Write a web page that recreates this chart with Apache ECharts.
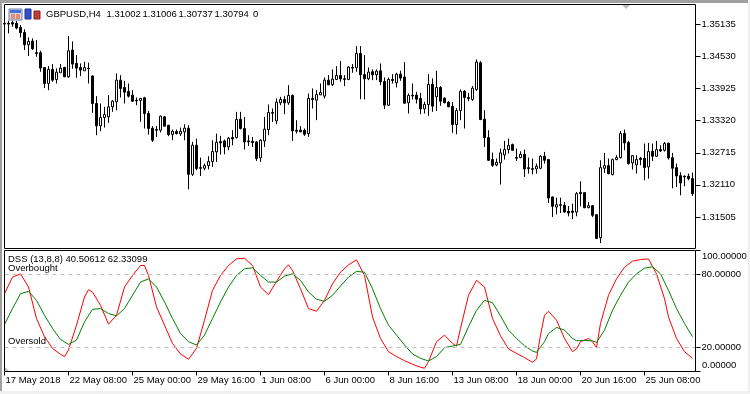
<!DOCTYPE html>
<html><head><meta charset="utf-8">
<style>html,body{margin:0;padding:0;background:#fff}#c{width:750px;height:394px}</style>
<script src="https://cdn.jsdelivr.net/npm/echarts@6/dist/echarts.min.js"></script>
</head><body><div id="c"></div>
<script>
// Prices in points (1 point = 0.00001)
const openPoints=[
135157,135157,135170,135157,135081,134987,134754,134823,134603,134603,
134325,134023,134288,134099,134225,134325,134149,134653,134401,134325,
134262,134313,134162,133645,133223,133380,133393,133582,133677,134086,
133947,133872,133803,133708,133702,133752,133456,133179,133154,133141,
133393,133236,133059,133116,133072,133109,133179,132309,132857,132435,
132423,132473,132549,132732,132927,132939,132826,133002,133002,133349,
133173,132939,132933,132920,132618,132939,133154,133475,133317,133658,
133721,133658,133796,133141,133141,133141,133078,133740,133708,133809,
133784,134086,133998,134099,134174,134111,134099,134325,134319,134590,
134193,134111,134244,134187,134262,134061,133613,134099,134036,134199,
134143,133658,133803,133803,133740,133544,133626,134010,133771,133947,
133746,133670,133588,133248,133513,133878,133758,133721,133910,134414,
133349,133002,132587,132486,132524,132675,132776,132870,132624,132624,
132687,132435,132417,132410,132423,132650,132587,131881,131692,131736,
131724,131610,131616,131597,131969,131963,131679,131717,131547,131112,
132423,132473,132303,132587,132624,133078,132908,132524,132486,132612,
132612,132448,132744,132650,132776,132763,132895,132624,132435,132284,
132272,132272,132228];
const closePoints=[
135144,135144,135144,135069,134981,134754,134817,134678,134590,134313,
134023,134288,134086,134237,134313,134149,134640,134388,134313,134275,
134325,134300,133645,133223,133380,133437,133582,133689,134086,133929,
133859,133784,133689,133695,133740,133456,133173,132952,133141,133406,
133217,133059,133122,133078,133122,133179,132309,132857,132417,132423,
132473,132549,132738,132914,132902,132826,132990,132977,133343,133173,
132920,132920,132908,132606,132952,133160,133475,133462,133670,133721,
133658,133796,133128,133122,133109,133065,133740,133721,133815,133853,
134086,133998,134105,134174,134111,134099,134332,134313,134590,134187,
134111,134237,134187,134256,134055,133613,134099,134080,134199,134124,
133651,133796,133790,133727,133544,133626,134004,133595,133947,133689,
133658,133582,133248,133513,133872,133758,133740,133935,134426,133343,
133002,132574,132479,132536,132713,132776,132851,132763,132612,132687,
132410,132417,132404,132461,132650,132574,131862,131705,131736,131724,
131597,131579,131591,131944,131944,131679,131717,131535,131100,132435,
132473,132322,132587,132624,133078,132902,132511,132662,132587,132587,
132435,132738,132650,132776,132750,132889,132618,132423,132278,132146,
132259,132228,131944];
const lowPoints=[
135144,134968,135094,135044,134892,134653,134540,134653,134527,134244,
133935,133897,134055,134023,134225,134143,134130,134300,134130,134162,
134262,134023,133469,133047,133122,133191,133280,133488,133519,133758,
133645,133758,133677,133613,133299,133173,133059,132920,133015,133097,
133217,133028,132952,133059,133034,132952,132026,132278,132385,132278,
132385,132404,132448,132543,132681,132687,132763,132857,132983,133154,
132776,132845,132826,132561,132543,132826,133047,133299,133254,133613,
133443,133620,132939,133078,133109,133034,133015,133551,133330,133803,
133740,133991,133973,134086,134055,133973,134086,134225,134244,133727,
133721,134086,134086,134086,133991,133538,133595,134023,133947,134073,
133645,133456,133721,133645,133443,133456,133412,133488,133506,133601,
133651,133576,133091,133065,133330,133173,133689,133695,133884,133330,
132826,132561,132448,132461,132114,132587,132700,132750,132561,132612,
132259,132322,132309,132322,132404,132511,131768,131503,131553,131579,
131585,131516,131465,131516,131705,131667,131667,131503,131087,131012,
132335,132309,132290,132574,132606,132763,132492,132398,132322,132479,
132196,132228,132561,132637,132732,132738,132587,132045,132070,131913,
132083,132196,131900];
const highPoints=[
135170,135207,135207,135207,135126,135044,134892,134874,134842,134640,
134325,134351,134388,134307,134388,134338,134918,134817,134559,134401,
134433,134414,134180,133784,133645,133582,133803,133708,134212,134180,
134073,134023,133897,133758,133752,133771,133506,133217,133217,133418,
133406,133236,133154,133154,133191,133254,133236,132920,132983,132624,
132511,132650,132952,133078,133034,132965,133015,133141,133488,133488,
133393,133047,133015,132933,132971,133393,133626,133551,133740,133771,
133784,133991,133815,133330,133217,133173,133834,133929,133897,134023,
134136,134180,134288,134351,134445,134180,134351,134388,134729,134729,
134559,134325,134288,134288,134401,134136,134136,134199,134225,134262,
134426,133834,134023,133866,133847,133677,134199,134118,134262,133973,
133758,133689,133677,133557,133910,133897,133847,133973,134477,134445,
133519,133141,132719,132606,132794,132939,132983,132889,132794,132744,
132776,132624,132606,132511,132669,132732,132593,131894,131868,131868,
131787,131711,131755,131976,132177,131969,131787,131724,131553,132574,
132713,132606,132606,132669,133128,133154,132939,132669,132669,132637,
132889,132902,132889,132939,132857,132920,132908,132713,132511,132347,
132290,132322,132341];

// DSS readings: [bar index, value]
const dssRed=[[0,64.3],[2,78.0],[4,80.7],[6,69.8],[8,43.8],[10,28.7],[12,19.1],[14,14.2],[15,12.3],[16,17.7],[18,38.3],[20,61.6],[21,67.6],[22,65.7],[24,54.7],[26,39.1],[28,46.5],[30,69.8],[32,79.4],[34,87.6],[35,87.6],[36,79.4],[38,53.4],[40,38.3],[42,23.2],[44,14.5],[46,10.1],[48,19.1],[50,42.4],[52,67.1],[54,79.4],[56,87.6],[58,93.1],[60,93.6],
[62,87.6],[64,69.8],[66,63.5],[68,74.4],[70,84.9],[71,88.1],[72,83.5],[74,68.4],[76,52.0],[78,49.8],[80,58.8],[82,72.5],[84,82.1],[86,88.1],[88,92.3],[90,79.4],[92,45.1],[94,27.3],[96,16.4],[98,12.3],[100,9.0],[102,6.0],[104,3.5],[105,2.7],[106,8.2],[108,24.6],[110,30.1],[112,23.2],[113,21.0],[114,35.6],[116,63.0],[118,75.3],[120,69.8],[122,43.8],
[124,29.5],[126,18.6],[128,15.0],[130,11.5],[132,7.6],[133,10.4],[134,30.1],[135,46.5],[136,49.8],[138,42.4],[140,27.3],[142,16.4],[143,18.6],[144,24.6],[146,27.3],[147,24.6],[148,19.7],[149,39.7],[151,63.0],[153,76.6],[155,86.2],[157,91.2],[159,92.5],[161,93.1],[163,80.7],[165,60.2],[166,45.1],[168,27.3],[170,16.4],[172,10.9]];
const dssGreen=[[0,38.8],[2,52.0],[4,64.3],[6,66.2],[8,58.8],[10,46.5],[12,35.6],[14,26.5],[16,22.4],[18,26.0],[20,41.0],[22,51.4],[24,52.0],[26,47.9],[28,46.0],[30,52.0],[32,63.0],[34,73.9],[36,76.6],[38,69.8],[40,57.5],[42,43.8],[44,31.4],[46,24.6],[48,21.9],[50,30.1],[52,43.8],[54,57.5],[56,69.8],[58,79.4],[60,84.9],
[62,85.7],[64,79.4],[66,73.9],[68,73.9],[70,78.8],[72,80.7],[74,75.3],[76,65.7],[78,59.7],[80,58.0],[82,63.0],[84,70.6],[86,78.0],[88,82.7],[90,82.1],[92,68.4],[94,52.0],[96,38.3],[98,30.1],[100,21.9],[102,14.5],[104,10.9],[106,8.7],[108,12.3],[110,19.7],[112,21.0],[114,22.4],[116,37.0],[118,50.6],[120,58.8],[122,56.9],
[124,46.0],[126,34.2],[128,27.3],[130,21.3],[132,16.9],[133,15.8],[135,24.6],[136,31.4],[138,36.4],[140,34.2],[142,27.3],[143,25.4],[145,25.7],[147,25.4],[148,24.0],[150,34.2],[152,50.6],[154,63.0],[156,73.9],[158,80.7],[160,85.4],[162,86.5],[164,80.7],[166,67.1],[168,52.0],[170,39.7],[172,28.7]];

const tickLabels=['17 May 2018','22 May 08:00','25 May 00:00','29 May 16:00','1 Jun 08:00','6 Jun 00:00','8 Jun 16:00','13 Jun 08:00','18 Jun 00:00','20 Jun 16:00','25 Jun 08:00'];
const priceTicks=[1.35135,1.34530,1.33925,1.33320,1.32715,1.32110,1.31505];
const dssTicks=[0,20,80,100];
const dssLabelTicks=[20,80];
const dssEdgeLabels=['100.00000','0.00000'];
const levels=[80,20];
const headerSymbol='GBPUSD,H4';
const headerQuotes=['1.31002','1.31006','1.30737','1.30794','0'];
const dssHeader='DSS (13,8,8) 40.50612 62.33099';

const P=1e-5;
const candles=openPoints.map((o,i)=>[o*P,closePoints[i]*P,lowPoints[i]*P,highPoints[i]*P]);
const barCount=openPoints.length+1;
const categories=Array.from({length:barCount},(_,i)=>i%16===0?tickLabels[i/16]:'bar'+i);

const FONT='"Liberation Sans",sans-serif';
const FS=9.5;
const txt=(x,y,text)=>({type:'text',x,y,z:10,silent:true,style:{text,fill:'#000',font:FS+'px '+FONT,textVerticalAlign:'middle'}});
const rect=(x,y,width,height,fill,stroke)=>({type:'rect',z:10,silent:true,shape:{x,y,width,height},style:{fill:fill||'transparent',stroke:stroke||null,lineWidth:1}});

const chart=echarts.init(document.getElementById('c'),null,{renderer:'canvas'});
chart.setOption({
  animation:false,backgroundColor:'#fff',
  grid:[
    {left:4.5,width:692,top:4.5,height:244,show:false,outerBoundsMode:'none'},
    {left:4.5,width:692,top:250.5,height:121,show:false,outerBoundsMode:'none'}
  ],
  xAxis:[
    {gridIndex:0,type:'category',data:categories,boundaryGap:false,axisLine:{show:false},axisTick:{show:false},axisLabel:{show:false},splitLine:{show:false}},
    {gridIndex:1,type:'category',data:categories,boundaryGap:false,
     axisLine:{show:false},
     axisTick:{show:true,interval:15,length:4,lineStyle:{color:'#000'}},
     axisLabel:{show:true,interval:15,color:'#000',fontFamily:FONT,fontSize:FS,align:'left',margin:4,padding:[0,0,0,1],hideOverlap:false},
     splitLine:{show:false}}
  ],
  yAxis:[
    {gridIndex:0,type:'value',position:'right',offset:-1,min:1.30909,max:1.35513,scale:true,
     axisLine:{show:false},
     axisTick:{show:true,length:5,customValues:priceTicks,lineStyle:{color:'#000'}},
     axisLabel:{color:'#000',fontFamily:FONT,fontSize:FS,margin:6,customValues:priceTicks,formatter:v=>v.toFixed(5)},
     splitLine:{show:false}},
    {gridIndex:1,type:'value',position:'right',offset:-1,min:0,max:100,
     axisLine:{show:false},
     axisTick:{show:true,length:5,customValues:dssTicks,lineStyle:{color:'#000'}},
     axisLabel:{color:'#000',fontFamily:FONT,fontSize:FS,margin:6,customValues:dssLabelTicks,formatter:v=>v.toFixed(5)},
     splitLine:{show:false}}
  ],
  series:[
    {type:'candlestick',xAxisIndex:0,yAxisIndex:0,data:candles,barWidth:2,clip:true,
     itemStyle:{color:'#fff',color0:'#000',borderColor:'#000',borderColor0:'#000',borderWidth:1}},
    {type:'line',xAxisIndex:1,yAxisIndex:1,data:dssRed,symbol:'none',showSymbol:false,clip:true,
     lineStyle:{color:'#ff0000',width:1},
     markLine:{silent:true,symbol:'none',label:{show:false},lineStyle:{color:'#bdbdbd',type:[4,4],width:1},data:levels.map(v=>({yAxis:v}))}},
    {type:'line',xAxisIndex:1,yAxisIndex:1,data:dssGreen,symbol:'none',showSymbol:false,clip:true,
     lineStyle:{color:'#008000',width:1}}
  ],
  graphic:[
    rect(0,0,750,3,'#a0a0a0'),
    rect(0,0,2,394,'#a0a0a0'),
    rect(0,391,750,3,'#f0f0f0'),
    rect(748,0,2,394,'#f0f0f0'),
    rect(4.5,4.5,691,244,null,'#000'),
    rect(4.5,250.5,691,121,null,'#000'),
    rect(9,9,13,11,'#cfd6ea','#7080b0'),
    rect(10,10,11,3,'#4a6fd0'),
    rect(11,14,4,5,'#e88a70'),
    rect(16,14,4,5,'#e88a70'),
    rect(25,9,6,10,'#3050c8','#203090'),
    rect(34,11,6,8,'#c04038','#802020'),
    {type:'polygon',z:10,silent:true,shape:{points:[[622,5],[630,5],[626,9]]},style:{fill:'#c0c0c0'}},
    {type:'polygon',z:10,silent:true,shape:{points:[[5,367],[5,371],[9,371]]},style:{fill:'#c0c0c0'}},
    txt(46,14.5,headerSymbol),
    txt(106.5,14.5,headerQuotes[0]),
    txt(142.5,14.5,headerQuotes[1]),
    txt(178.5,14.5,headerQuotes[2]),
    txt(214.5,14.5,headerQuotes[3]),
    txt(253,14.5,headerQuotes[4]),
    txt(8,259.5,dssHeader),
    txt(8,268.5,'Overbought'),
    txt(8,341.5,'Oversold'),
    txt(702,256,dssEdgeLabels[0]),
    txt(702,365.5,dssEdgeLabels[1])
  ]
});
</script></body></html>
